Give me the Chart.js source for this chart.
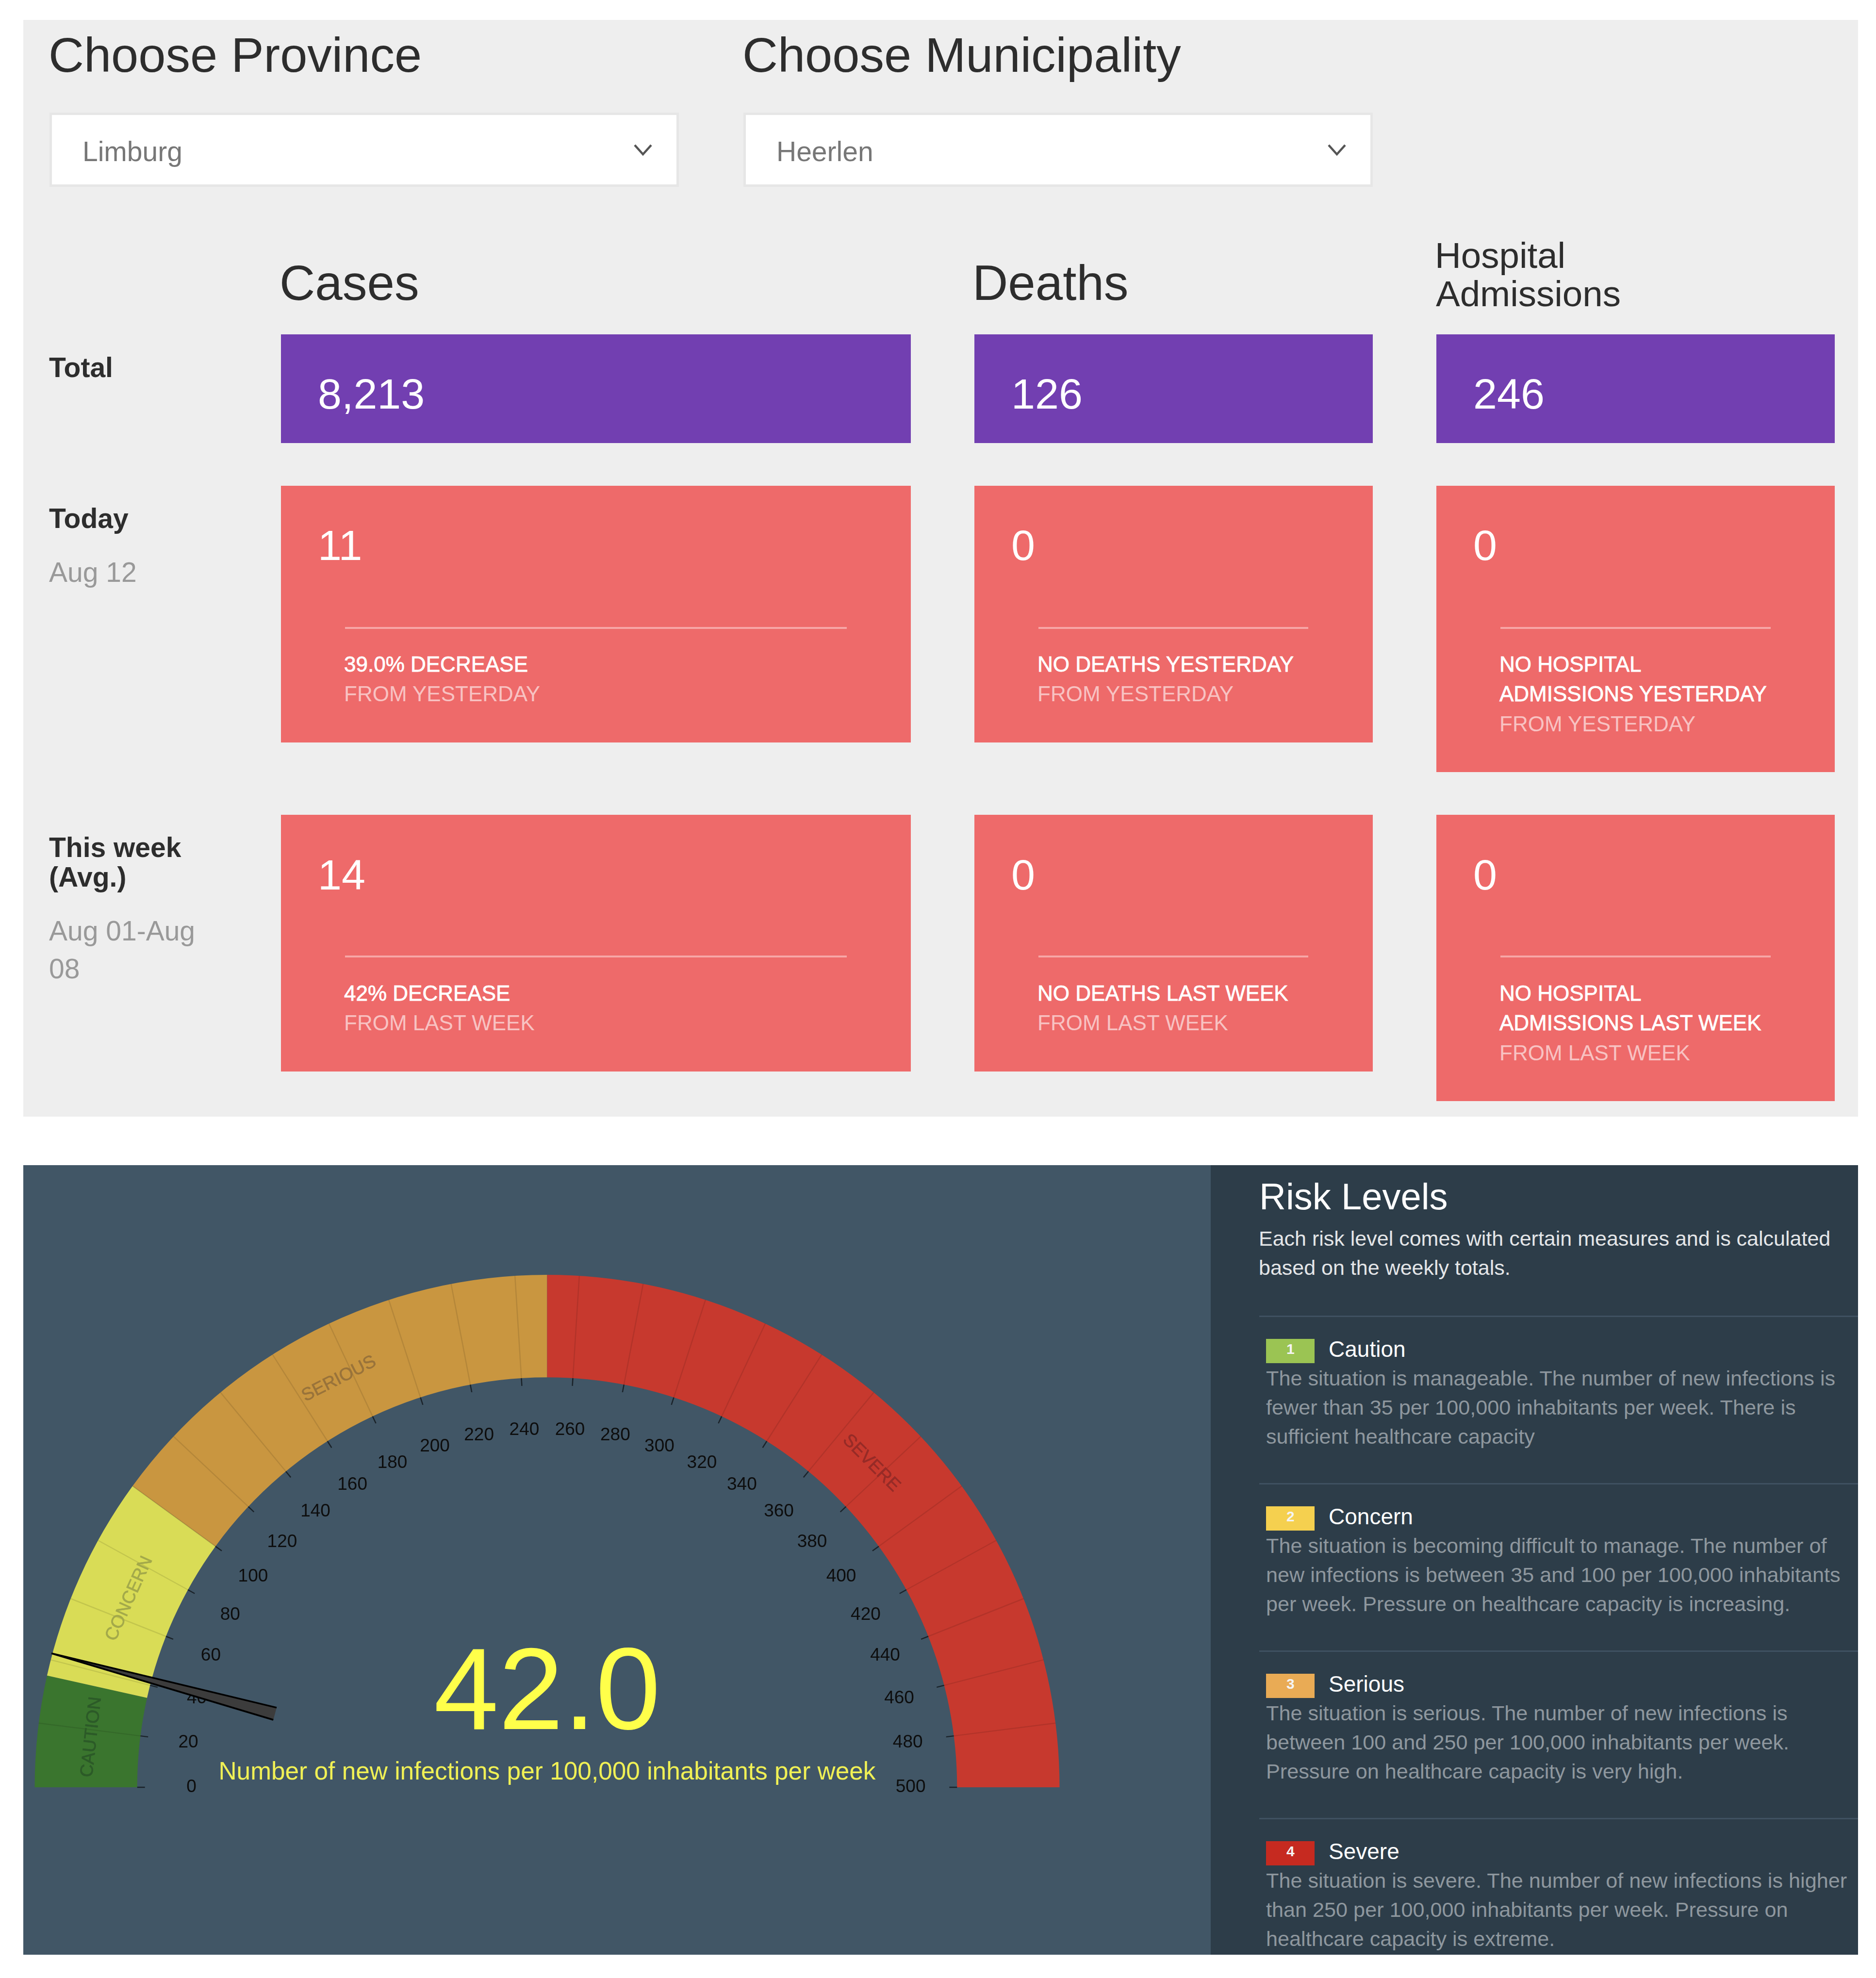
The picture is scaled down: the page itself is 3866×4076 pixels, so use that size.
<!DOCTYPE html>
<html>
<head>
<meta charset="utf-8">
<title>Risk dashboard</title>
<script src="https://cdn.jsdelivr.net/npm/chart.js@4/dist/chart.umd.js"></script>
<style>
  html, body { margin: 0; padding: 0; background: #fff; }
  body { position: relative; width: 3866px; height: 4076px; overflow: hidden; font-family: "Liberation Sans", Arial, sans-serif; }
  .box { position: absolute; }
  .txt { position: absolute; line-height: 1; white-space: pre; }
  canvas { position: absolute; }
</style>
</head>
<body>
<canvas id="gauge" width="2449" height="1627" style="left:48px;top:2401px;z-index:2"></canvas>
<script>
// gauge data
const bandNames = ['CAUTION', 'CONCERN', 'SERIOUS', 'SEVERE'];
const bandSizes = [35, 65, 150, 250];
const bandColors = ['#3a752e', '#d9dc56', '#c99640', '#c7392e'];
const bandTextColors = ['#2c5a28', '#a3a94a', '#99733a', '#962b27'];
const needleValue = [42];
const gaugeTitle = '42.0';
const gaugeCaption = 'Number of new infections per 100,000 inhabitants per week';

// filters
const filterTitles = ['Choose Province', 'Choose Municipality'];
const filterValues = ['Limburg', 'Heerlen'];

// cards
const totals = ['8,213', '126', '246'];
const todayValues = ['11', '0', '0'];
const weekValues = ['14', '0', '0'];
const todayNotes = [['39.0% DECREASE'], ['NO DEATHS YESTERDAY'], ['NO HOSPITAL', 'ADMISSIONS YESTERDAY']];
const weekNotes = [['42% DECREASE'], ['NO DEATHS LAST WEEK'], ['NO HOSPITAL', 'ADMISSIONS LAST WEEK']];

// risk list
const riskTitles = ['Caution', 'Concern', 'Serious', 'Severe'];
const riskColors = ['#9bc453', '#f5d04f', '#e9ab55', '#c62a20'];
const riskTexts = [
  ['The situation is manageable. The number of new infections is', 'fewer than 35 per 100,000 inhabitants per week. There is', 'sufficient healthcare capacity'],
  ['The situation is becoming difficult to manage. The number of', 'new infections is between 35 and 100 per 100,000 inhabitants', 'per week. Pressure on healthcare capacity is increasing.'],
  ['The situation is serious. The number of new infections is', 'between 100 and 250 per 100,000 inhabitants per week.', 'Pressure on healthcare capacity is very high.'],
  ['The situation is severe. The number of new infections is higher', 'than 250 per 100,000 inhabitants per week. Pressure on', 'healthcare capacity is extreme.']
];

function box(x, y, w, h, bg, extra) {
  const d = document.createElement('div');
  d.className = 'box';
  d.style.cssText = `left:${x}px;top:${y}px;width:${w}px;height:${h}px;background:${bg};${extra || ''}`;
  document.body.appendChild(d);
  return d;
}

// x = left edge, base = text baseline
function text(str, x, base, size, color, extra) {
  const d = document.createElement('div');
  d.className = 'txt';
  d.textContent = str;
  d.style.cssText = `left:${x}px;top:${base - 0.8465 * size}px;font-size:${size}px;color:${color};z-index:3;${extra || ''}`;
  document.body.appendChild(d);
  return d;
}

// top grey panel
box(48, 41, 3781, 2260, '#eeeeee');

const selectX = [102, 1532];
filterTitles.forEach((t, i) => text(t, selectX[i] - 2, 148, 101, '#2d2d2d'));
filterValues.forEach((v, i) => {
  box(selectX[i], 232, 1297, 153, '#ffffff', 'box-sizing:border-box;border:5px solid #e6e6e6');
  text(v, selectX[i] + 68, 332, 57, '#777777');
  const s = document.createElementNS('http://www.w3.org/2000/svg', 'svg');
  s.setAttribute('width', 40);
  s.setAttribute('height', 26);
  s.style.cssText = `position:absolute;left:${selectX[i] + 1203}px;top:296px`;
  s.innerHTML = '<polyline points="3,3 20,22 37,3" fill="none" stroke="#555" stroke-width="4.5"/>';
  document.body.appendChild(s);
});

// cards per column
const colX = [579, 2008, 2960];
const colW = [1298, 821, 821];
const ruleX = [711, 2140, 3092];
const ruleW = [1034, 556, 557];

text('Cases', colX[0] - 3, 619, 101.5, '#2d2d2d');
text('Deaths', colX[1] - 4, 619, 101.5, '#2d2d2d');
text('Hospital', colX[2] - 3, 553, 74.5, '#2d2d2d');
text('Admissions', colX[2] - 1, 632, 74.5, '#2d2d2d');

text('Total', 101, 777, 57, '#2d2d2d', 'font-weight:bold');
text('Today', 101, 1088, 57, '#2d2d2d', 'font-weight:bold');
text('Aug 12', 101, 1199, 57, '#999999');
text('This week', 101, 1766, 57, '#2d2d2d', 'font-weight:bold');
text('(Avg.)', 101, 1827, 57, '#2d2d2d', 'font-weight:bold');
text('Aug 01-Aug', 101, 1938, 57, '#999999');
text('08', 101, 2016, 57, '#999999');

totals.forEach((v, i) => {
  box(colX[i], 689, colW[i], 224, '#723fb1');
  text(v, colX[i] + 76, 842, 88, '#ffffff');
});

function redCards(values, notes, from, top, valueBase, ruleY, noteBase) {
  values.forEach((v, i) => {
    const lines = notes[i].length;
    box(colX[i], top, colW[i], lines === 2 ? 590 : 529, '#ee6a6a');
    text(v, colX[i] + 76, valueBase, 88, '#ffffff');
    box(ruleX[i], ruleY, ruleW[i], 4, '#f7a6a6');
    notes[i].forEach((n, k) => text(n, ruleX[i] - 2, noteBase + k * 61.5, 44, '#ffffff', '-webkit-text-stroke:0.8px #fff'));
    text(from, ruleX[i] - 2, noteBase + lines * 61.5, 44, 'rgba(255,255,255,0.62)');
  });
}
redCards(todayValues, todayNotes, 'FROM YESTERDAY', 1001, 1154, 1292, 1384);
redCards(weekValues, weekNotes, 'FROM LAST WEEK', 1679, 1833, 1969, 2062);

// gauge + risk panels
box(48, 2401, 2449, 1627, '#415666');
box(2495, 2401, 1334, 1627, '#2d3d49');

text('Risk Levels', 2595, 2492, 76, '#ffffff');
text('Each risk level comes with certain measures and is calculated', 2594, 2567, 43, '#e4e6e8');
text('based on the weekly totals.', 2594, 2627, 43, '#e4e6e8');

riskTitles.forEach((t, i) => {
  const dy = i * 345;
  box(2595, 2711 + dy, 1234, 3, '#3f5161');
  box(2609, 2759 + dy, 100, 50, riskColors[i]);
  text(String(i + 1), 2651, 2790 + dy, 30, '#f4f4f4', 'font-weight:bold');
  text(t, 2738, 2796 + dy, 46, '#ffffff');
  riskTexts[i].forEach((l, k) => text(l, 2609, 2856 + dy + k * 60, 43.2, '#8e979e'));
});

// draws ticks, labels and needle from the hidden value scale + the doughnut arc geometry
const gaugeOverlay = {
  id: 'gaugeOverlay',
  afterDatasetsDraw(chart) {
    const ctx = chart.ctx;
    const arc = chart.getDatasetMeta(0).data[0];
    const { x: cx, y: cy, innerRadius, outerRadius } = arc.getProps(['x', 'y', 'innerRadius', 'outerRadius'], true);
    const scale = chart.scales.value;
    const angleOf = v => Math.PI + (scale.getPixelForValue(v) - scale.left) / scale.width * Math.PI;
    const at = (v, r) => [cx + r * Math.cos(angleOf(v)), cy + r * Math.sin(angleOf(v))];

    ctx.save();
    ctx.font = '37px "Liberation Sans", Arial, sans-serif';
    ctx.textAlign = 'center';
    ctx.textBaseline = 'middle';
    scale.ticks.forEach(t => {
      const v = t.value;
      // grid across the band
      if (v > 0 && v < 500) {
        const p1 = at(v, innerRadius), p2 = at(v, outerRadius);
        ctx.strokeStyle = 'rgba(0,0,0,0.1)';
        ctx.lineWidth = 2.5;
        ctx.beginPath(); ctx.moveTo(p1[0], p1[1]); ctx.lineTo(p2[0], p2[1]); ctx.stroke();
      }
      // tick mark
      const p3 = at(v, innerRadius - 16), p4 = at(v, innerRadius);
      ctx.strokeStyle = 'rgba(0,0,0,0.6)';
      ctx.lineWidth = 2.5;
      ctx.beginPath(); ctx.moveTo(p3[0], p3[1]); ctx.lineTo(p4[0], p4[1]); ctx.stroke();
      // tick label, pushed out sideways by part of its width like the original
      const l = at(v, 738);
      const label = String(v);
      const push = v === 0 ? 5 : Math.cos(angleOf(v)) * ctx.measureText(label).width * 0.18;
      ctx.fillStyle = '#0d0d0d';
      ctx.fillText(label, l[0] + push, l[1]);
    });

    // band names along the arc
    const midR = (innerRadius + outerRadius) / 2 - 6;
    ctx.font = '37px "Liberation Sans", Arial, sans-serif';
    ctx.lineWidth = 0.7;
    let start = 0;
    bandSizes.forEach((s, i) => {
      const mid = start + s / 2;
      const p = at(mid, midR);
      ctx.save();
      ctx.translate(p[0], p[1]);
      ctx.rotate(angleOf(mid) - 1.5 * Math.PI);
      ctx.fillStyle = bandTextColors[i];
      ctx.strokeStyle = bandTextColors[i];
      ctx.fillText(bandNames[i], 0, 0);
      ctx.strokeText(bandNames[i], 0, 0);
      ctx.restore();
      start += s;
    });

    // needle
    const a = angleOf(needleValue[0]);
    const nx = -Math.sin(a), ny = Math.cos(a);
    const tip = at(needleValue[0], outerRadius + 2);
    const base = at(needleValue[0], 581);
    ctx.beginPath();
    ctx.moveTo(tip[0], tip[1]);
    ctx.lineTo(base[0] + nx * 13, base[1] + ny * 13);
    ctx.lineTo(base[0] - nx * 13, base[1] - ny * 13);
    ctx.closePath();
    ctx.fillStyle = '#3c3c3c';
    ctx.fill();
    ctx.strokeStyle = '#000';
    ctx.lineWidth = 3.5;
    ctx.beginPath();
    ctx.moveTo(base[0] + nx * 13, base[1] + ny * 13);
    ctx.lineTo(tip[0], tip[1]);
    ctx.lineTo(base[0] - nx * 13, base[1] - ny * 13);
    ctx.stroke();

    // readout
    ctx.textBaseline = 'alphabetic';
    ctx.fillStyle = '#ffff4a';
    ctx.font = '240px "Liberation Sans", Arial, sans-serif';
    ctx.fillText(gaugeTitle, cx, cy - 120);
    ctx.font = '51.4px "Liberation Sans", Arial, sans-serif';
    ctx.fillStyle = '#f0f055';
    ctx.fillText(gaugeCaption, cx, cy - 16);
    ctx.restore();
  }
};

new Chart(document.getElementById('gauge'), {
  type: 'doughnut',
  data: {
    labels: bandNames,
    datasets: [{ data: bandSizes, backgroundColor: bandColors, borderWidth: 0 }]
  },
  options: {
    responsive: false,
    animation: false,
    rotation: -90,
    circumference: 180,
    cutout: '80%',
    layout: { padding: { left: 20, right: 310, top: 226, bottom: 345 } },
    scales: {
      value: { type: 'linear', axis: 'x', position: 'bottom', display: false, min: 0, max: 500, ticks: { stepSize: 20 } }
    },
    plugins: { legend: { display: false }, tooltip: { enabled: false } }
  },
  plugins: [gaugeOverlay]
});
</script>
</body>
</html>
